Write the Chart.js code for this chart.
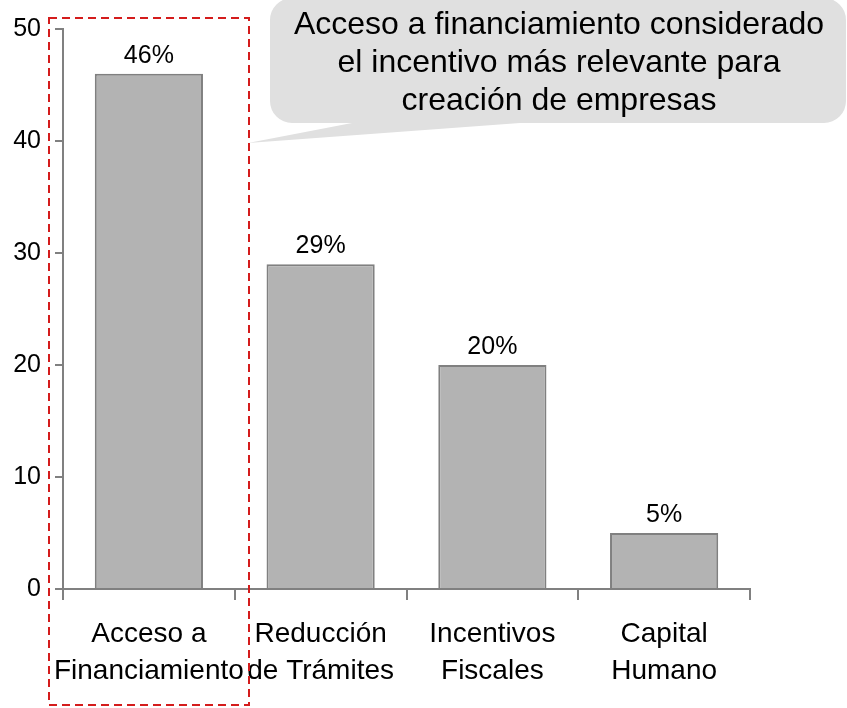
<!DOCTYPE html>
<html><head><meta charset="utf-8">
<script src="https://cdn.jsdelivr.net/npm/chart.js@4/dist/chart.umd.min.js"></script>
<style>html,body{margin:0;padding:0;background:#fff}#wrap{width:847px;height:708px;position:relative}</style>
</head><body><div id="wrap"><canvas id="c" width="847" height="708"></canvas></div>
<script>
const categories = [["Acceso a","Financiamiento"],["Reducción","de Trámites"],["Incentivos","Fiscales"],["Capital","Humano"]];
const values = [46, 29, 20, 5];
const valueLabels = ["46%", "29%", "20%", "5%"];
const yMin = 0, yMax = 50, yStep = 10;
const calloutLines = ["Acceso a financiamiento considerado", "el incentivo más relevante para", "creación de empresas"];

const FONT = "'Liberation Sans', Arial, sans-serif";

const dataLabels = {
  id: 'dataLabels',
  afterDatasetsDraw(chart) {
    const ctx = chart.ctx;
    const meta = chart.getDatasetMeta(0);
    ctx.save();
    ctx.font = "25px " + FONT;
    ctx.fillStyle = "#000";
    ctx.textAlign = "center";
    ctx.textBaseline = "alphabetic";
    meta.data.forEach((bar, i) => {
      ctx.fillText(valueLabels[i], bar.x, bar.y - 11);
    });
    ctx.restore();
  }
};

const annotations = {
  id: 'annotations',
  afterDraw(chart) {
    const ctx = chart.ctx;
    ctx.save();
    // red dashed highlight box
    ctx.strokeStyle = "#d41c1c";
    ctx.lineWidth = 2;
    ctx.setLineDash([8, 5]);
    ctx.strokeRect(49, 18, 200, 687);
    ctx.setLineDash([]);
    // callout bubble
    const L = 270, T = -2, R = 846, B = 123, r = 22;
    ctx.beginPath();
    ctx.moveTo(L + r, T);
    ctx.lineTo(R - r, T);
    ctx.arcTo(R, T, R, T + r, r);
    ctx.lineTo(R, B - r);
    ctx.arcTo(R, B, R - r, B, r);
    ctx.lineTo(520, B);
    ctx.lineTo(248, 143);
    ctx.lineTo(352, B);
    ctx.lineTo(L + r, B);
    ctx.arcTo(L, B, L, B - r, r);
    ctx.lineTo(L, T + r);
    ctx.arcTo(L, T, L + r, T, r);
    ctx.closePath();
    ctx.fillStyle = "#e0e0e0";
    ctx.fill();
    ctx.fillStyle = "#000";
    ctx.font = "32px " + FONT;
    ctx.textAlign = "center";
    ctx.textBaseline = "alphabetic";
    const baselines = [34, 72, 110];
    calloutLines.forEach((t, i) => ctx.fillText(t, 559, baselines[i]));
    ctx.restore();
  }
};

new Chart(document.getElementById('c'), {
  type: 'bar',
  data: {
    labels: categories,
    datasets: [{
      data: values,
      backgroundColor: '#b3b3b3',
      borderColor: '#808080',
      borderWidth: 2,
      barPercentage: 0.63,
      categoryPercentage: 1
    }]
  },
  options: {
    responsive: false,
    devicePixelRatio: 1,
    animation: false,
    layout: { padding: { left: 0, top: 29, right: 97, bottom: 0 } },
    plugins: { legend: { display: false }, tooltip: { enabled: false } },
    scales: {
      x: {
        afterFit(s) { s.height = 119; },
        grid: { drawOnChartArea: false, drawTicks: true, tickLength: 11, offset: true, color: '#808080', lineWidth: 2 },
        border: { display: true, color: '#808080', width: 2 },
        ticks: { color: '#000', font: { size: 28, family: FONT, lineHeight: 1.32 }, padding: 16, maxRotation: 0, autoSkip: false }
      },
      y: {
        min: yMin, max: yMax,
        afterFit(s) { s.width = 63; },
        grid: { drawOnChartArea: false, drawTicks: true, tickLength: 8, color: '#808080', lineWidth: 2 },
        border: { display: true, color: '#808080', width: 2 },
        ticks: { stepSize: yStep, color: '#000', font: { size: 25, family: FONT }, padding: 14 }
      }
    }
  },
  plugins: [dataLabels, annotations]
});
</script>
</body></html>
